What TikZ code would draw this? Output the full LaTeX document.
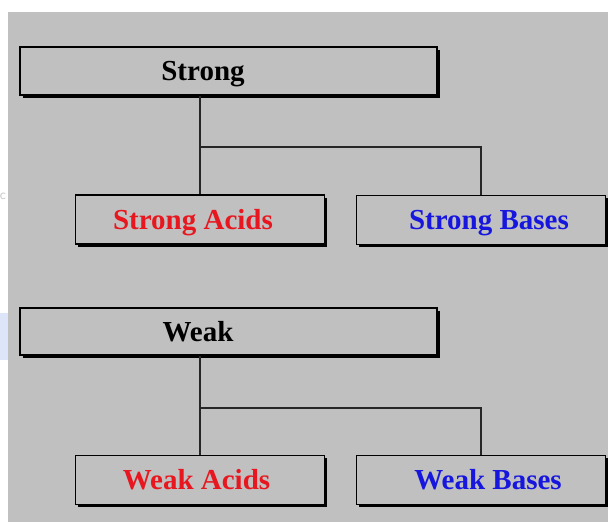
\documentclass[tikz,border=0pt]{standalone}
\usepackage{fontspec}
\setmainfont{Liberation Serif}
\usetikzlibrary{shadows}
\definecolor{panel}{HTML}{C0C0C0}
\definecolor{acidred}{RGB}{232,22,30}
\definecolor{baseblue}{RGB}{22,22,222}
\definecolor{sidetab}{HTML}{DCE6F8}
\tikzset{
  box/.style={draw=black, line width=1.1pt, fill=panel, rectangle,
    inner sep=0pt, minimum height=#1,
    drop shadow={fill=black, opacity=1, shadow xshift=2.6pt, shadow yshift=-2.6pt}},
  box/.default=49pt,
  widebox/.style={box=#1, minimum width=417pt},
  widebox/.default=48pt,
  smallbox/.style={box, minimum width=249pt},
  label/.style={font=\bfseries\fontsize{29}{31}\selectfont, inner sep=0pt, anchor=base},
  link/.style={draw=black!85, line width=1.4pt}
}
\begin{document}
\begin{tikzpicture}[x=1pt, y=-1pt]
  \useasboundingbox (0,0) rectangle (608,522);
  % grey page panel and the strip on its left
  \fill[panel] (8,12) rectangle (612,526);
  \fill[sidetab] (-2,313) rectangle (8,360);
  \node[text=black!22, font=\sffamily\fontsize{14}{14}\selectfont, inner sep=0pt] (edgec) at (3,196) {c};

  % fork points of the two trees
  \coordinate (sfork) at (200,147);
  \coordinate (wfork) at (200,408);

  % strong group
  \node[widebox=48pt] (strong) at (228.5,71) {};
  \node[smallbox] (sA) at (200,219.5) {};
  \node[smallbox] (sB) at (481,220) {};
  \draw[link] (strong.south -| sA.north) -- (sA.north);
  \draw[link] (sfork) -| (sB.north);

  \node[label] (tstrong) at (203,80) {Strong};
  \node[label, text=acidred] (tsA) at (193,229.5) {Strong Acids};
  \node[label, text=baseblue] (tsB) at (489,229.5) {Strong Bases};

  % weak group
  \node[widebox=47pt] (weak) at (228.5,331.5) {};
  \node[smallbox] (wA) at (200,480) {};
  \node[smallbox] (wB) at (481,480) {};
  \draw[link] (weak.south -| wA.north) -- (wA.north);
  \draw[link] (wfork) -| (wB.north);

  \node[label] (tweak) at (198,341) {Weak};
  \node[label, text=acidred] (twA) at (196.5,489) {Weak Acids};
  \node[label, text=baseblue] (twB) at (488,489) {Weak Bases};
\end{tikzpicture}
\end{document}
